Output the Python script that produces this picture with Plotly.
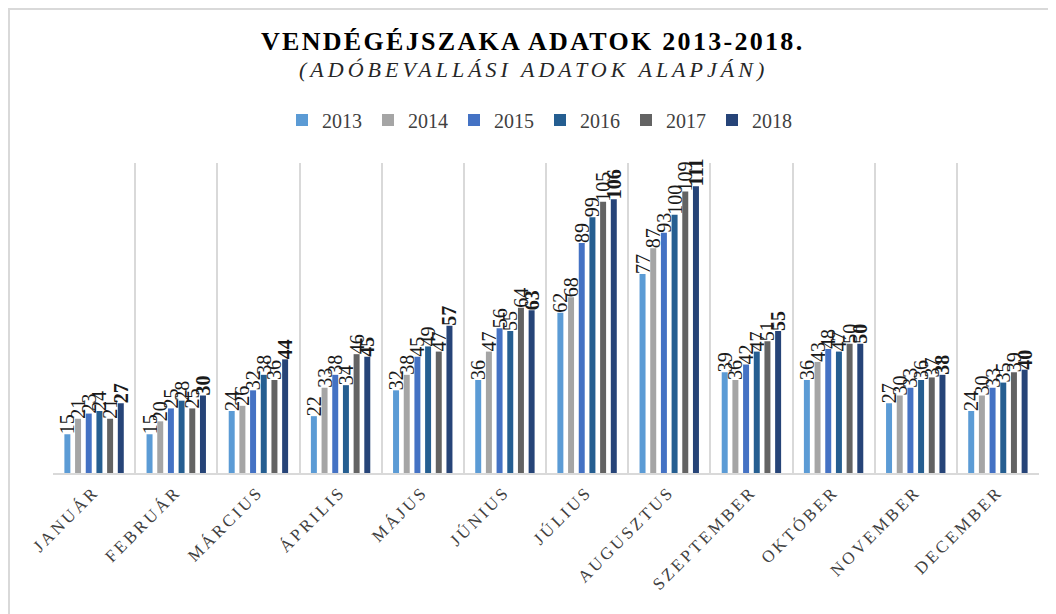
import plotly.graph_objects as go

months = ["JANUÁR", "FEBRUÁR", "MÁRCIUS", "ÁPRILIS", "MÁJUS", "JÚNIUS",
          "JÚLIUS", "AUGUSZTUS", "SZEPTEMBER", "OKTÓBER", "NOVEMBER", "DECEMBER"]
years = ["2013", "2014", "2015", "2016", "2017", "2018"]

v2013 = [15, 15, 24, 22, 32, 36, 62, 77, 39, 36, 27, 24]
v2014 = [21, 20, 26, 33, 38, 47, 68, 87, 36, 43, 30, 30]
v2015 = [23, 25, 32, 38, 45, 56, 89, 93, 42, 48, 33, 33]
v2016 = [24, 28, 38, 34, 49, 55, 99, 100, 47, 47, 36, 35]
v2017 = [21, 25, 36, 46, 47, 64, 105, 109, 51, 50, 37, 39]
v2018 = [27, 30, 44, 45, 57, 63, 106, 111, 55, 50, 38, 40]
series = [v2013, v2014, v2015, v2016, v2017, v2018]

colors = ["#5B9BD5", "#A5A5A5", "#4472C4", "#255E91", "#636363", "#264478"]

SERIF = "Liberation Serif, Times New Roman, serif"

fig = go.Figure()
for i, (yr, vals) in enumerate(zip(years, series)):
    fig.add_trace(go.Bar(
        name=yr, x=months, y=vals,
        marker=dict(color=colors[i], line=dict(width=0)),
        text=[str(v) for v in vals],
        textposition="outside",
        textangle=-90,
        constraintext="none",
        cliponaxis=False,
        textfont=dict(family=SERIF, size=20, color="#1a1a1a",
                      weight="bold" if yr == "2018" else "normal"),
    ))

# page body has an 8px margin: figure coordinates = reference pixels - 8
OFF = 8
W, H = 1056 - OFF, 614 - OFF
L, R, T, B = 45, 17, 155, 141
PW, PH = W - L - R, H - T - B

def px(x):
    return (x - OFF - L) / PW

def py(y):
    return (H - B - (y - OFF)) / PH

fig.update_layout(
    width=W, height=H,
    margin=dict(l=L, r=R, t=T, b=B, autoexpand=False),
    paper_bgcolor="white", plot_bgcolor="white",
    barmode="group", bargap=0.22, bargroupgap=0.44,
    font=dict(family=SERIF, color="#404040"),
    showlegend=True,
    legend=dict(orientation="h", x=px(540), y=py(120), xanchor="center", yanchor="middle",
                font=dict(family=SERIF, size=20, color="#404040"),
                itemwidth=30, entrywidth=41, entrywidthmode="pixels", traceorder="normal"),
    xaxis=dict(
        type="category", tickson="boundaries", showgrid=True, gridcolor="#D9D9D9", gridwidth=2,
        showline=True, linecolor="#D9D9D9", linewidth=2,
        ticks="", tickangle=-45,
        tickvals=months,
        ticktext=['<span style="letter-spacing:3px">%s</span>' % m for m in months],
        tickfont=dict(family=SERIF, size=17, color="#404040"),
    ),
    yaxis=dict(range=[0, 120], visible=False, showgrid=False, zeroline=False),
    annotations=[
        dict(xref="paper", yref="paper", x=px(532), y=py(41), xanchor="center", yanchor="middle",
             showarrow=False,
             text='<b><span style="letter-spacing:2.3px">VENDÉGÉJSZAKA ADATOK 2013-2018.</span></b>',
             font=dict(family=SERIF, size=26, color="#000000")),
        dict(xref="paper", yref="paper", x=px(533), y=py(69), xanchor="center", yanchor="middle",
             showarrow=False,
             text='<i><span style="letter-spacing:4px">(ADÓBEVALLÁSI ADATOK ALAPJÁN)</span></i>',
             font=dict(family=SERIF, size=22, color="#262626")),
    ],
    shapes=[
        dict(type="rect", xref="paper", yref="paper",
             x0=px(9), x1=px(1090), y0=py(660), y1=py(9),
             line=dict(color="#D9D9D9", width=2), fillcolor="rgba(0,0,0,0)", layer="below"),
    ],
)

fig.write_html("out.html")
